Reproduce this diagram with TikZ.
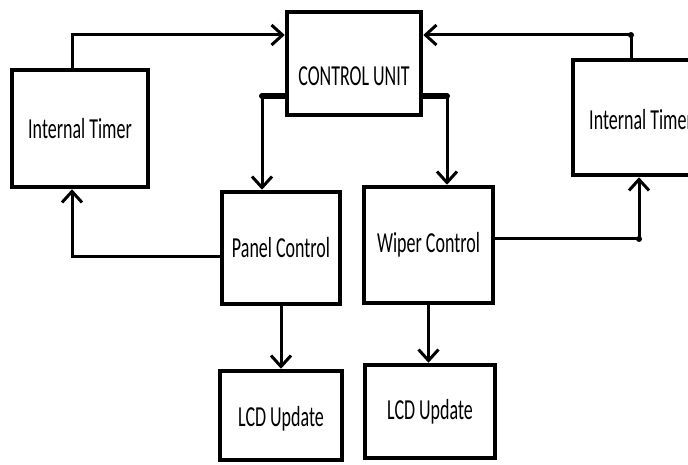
\documentclass[tikz,border=0pt]{standalone}
\usepackage{fontspec}
\setmainfont{Carlito}
\usepackage{graphicx}
\usetikzlibrary{arrows.meta}

% narrow the box texts
\newcommand{\sqz}[1]{\scalebox{0.62}[1]{#1}}

\begin{document}
\begin{tikzpicture}[
  x=1pt, y=1pt,
  font=\fontsize{29}{32}\selectfont,
  box/.style={rectangle, draw=black, line width=4.5pt, fill=white, inner sep=0pt},
  arrow/.style={-{Straight Barb[length=11pt, width=20pt]}, line width=3pt},
  stub/.style={line width=5.5pt},
]

\fill[white] (0,0) rectangle (688,464);
\path[use as bounding box, clip] (0,0) rectangle (688,464);

% blocks
\node[box, minimum width=134pt, minimum height=103pt, text height=44pt] (cu) at (354,400.5) {\sqz{CONTROL UNIT}};
\node[box, minimum width=136pt, minimum height=117pt] (lit) at (80,335.5) {\sqz{Internal Timer}};
\node[box, minimum width=136pt, minimum height=115pt, text height=24pt] (rit) at (641,346.5) {\sqz{Internal Timer}};
\node[box, minimum width=118pt, minimum height=112pt] (pan) at (281,216) {\sqz{Panel Control}};
\node[box, minimum width=129pt, minimum height=116pt] (wip) at (428.5,219) {\sqz{Wiper Control}};
\node[box, minimum width=122pt, minimum height=89pt, text height=26pt] (lcdl) at (281,48.5) {\sqz{LCD Update}};
\node[box, minimum width=130pt, minimum height=93pt] (lcdr) at (430,52.5) {\sqz{LCD Update}};

% bend and branch points
\coordinate (tl) at (72,429);
\coordinate (tr) at (631,429);
\coordinate (bl) at (262,368);
\coordinate (br) at (447,368);
\coordinate (pl) at (72,207);
\coordinate (wr) at (639,225);

% timers into the control unit
\draw[arrow] (tl |- lit.north) -- (tl) -- (cu.west |- tl);
\draw[arrow] (tr |- rit.north) -- (tr) -- (cu.east |- tr);

% control unit out to the two controllers
\draw[stub] (cu.west |- bl) -- (bl);
\draw[arrow] (bl) -- (bl |- pan.north);
\draw[stub] (cu.east |- br) -- (br);
\draw[arrow] (br) -- (br |- wip.north);

% controllers back to the timers
\draw[arrow] (pan.west |- pl) -- (pl) -- (pl |- lit.south);
\draw[arrow] (wip.east |- wr) -- (wr) -- (wr |- rit.south);

% display updates
\draw[arrow] (pan.south) -- (lcdl.north);
\draw[arrow] (wip.south) -- (wip.south |- lcdr.north);

\foreach \p in {tr, bl, br, wr}
  \fill (\p) circle (3pt);

\end{tikzpicture}
\end{document}
